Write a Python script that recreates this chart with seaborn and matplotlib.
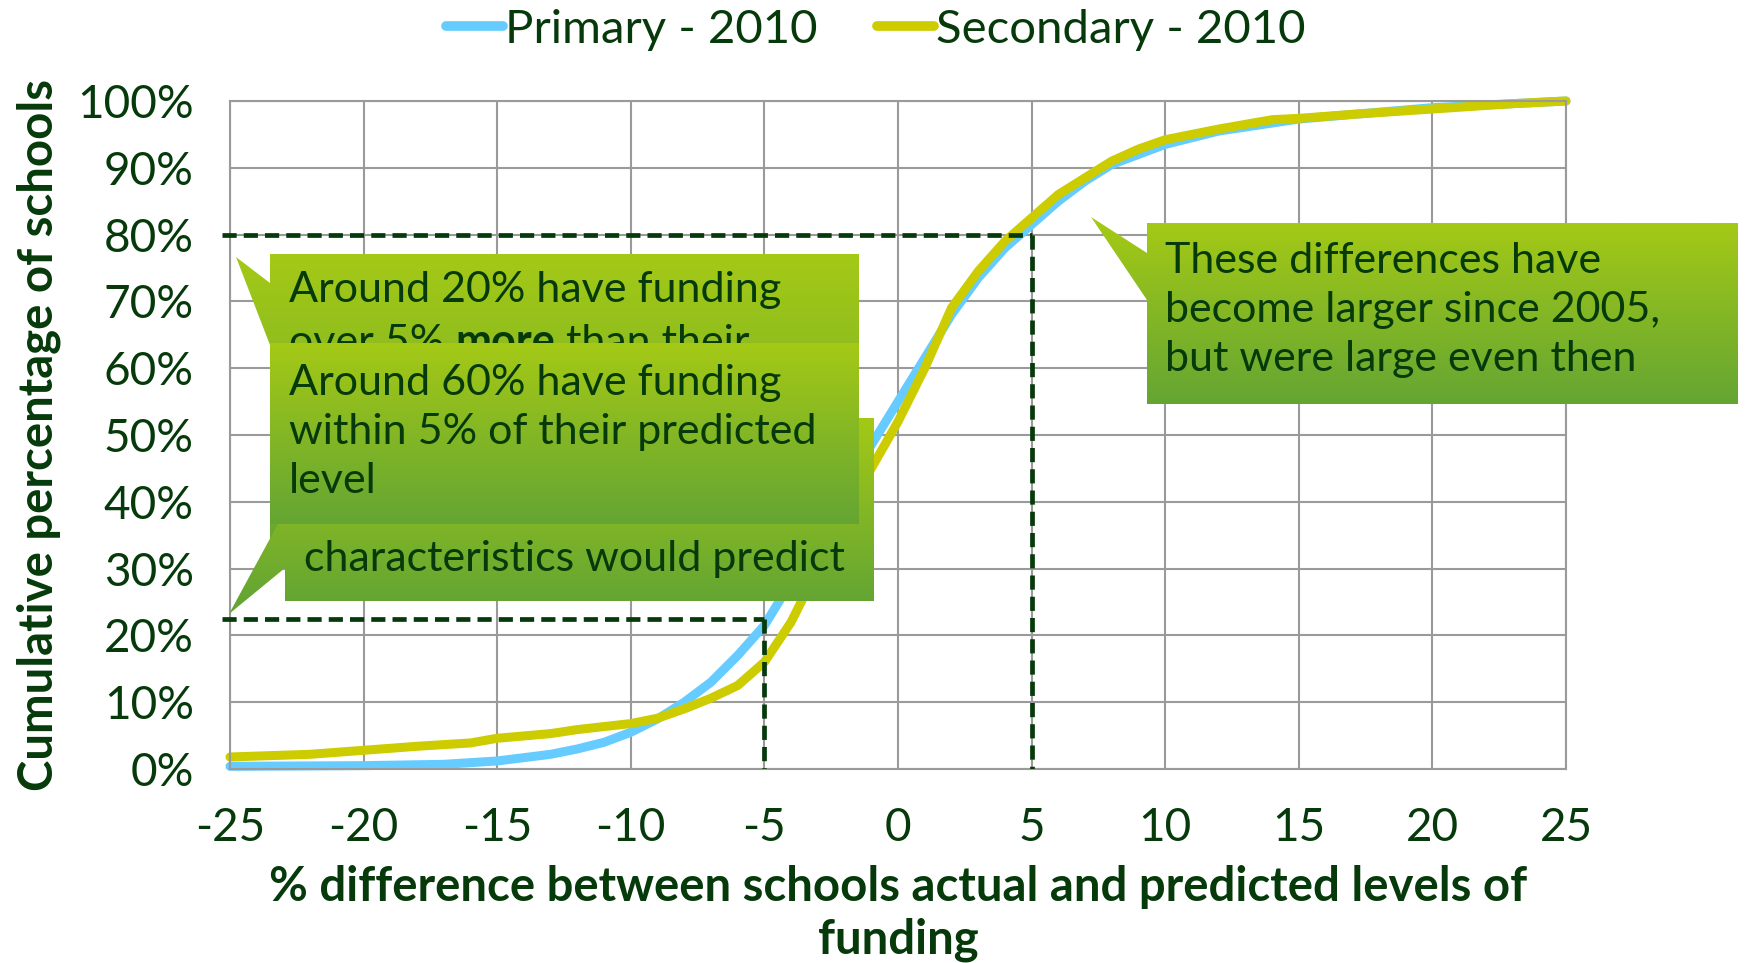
import numpy as np
import pandas as pd
import seaborn as sns
import matplotlib.pyplot as plt
from matplotlib.colors import LinearSegmentedColormap
from matplotlib.patches import Polygon
from matplotlib.lines import Line2D

# cumulative share of schools (%) by % difference in funding
primary_x = [-25, -20, -17, -15, -13, -12, -11, -10, -9, -8, -7, -6, -5, -4, -3, -2, -1, 0, 1, 2, 3, 4, 5, 6, 7, 8, 9, 10, 12, 15, 20, 25]
primary_y = [0.4, 0.5, 0.7, 1.2, 2.2, 3.0, 4.0, 5.5, 7.5, 10.0, 13.0, 17.0, 21.5, 28.0, 35.0, 42.0, 48.5, 55.0, 61.5, 68.0, 73.5, 78.0, 81.5, 85.0, 88.0, 90.5, 92.0, 93.5, 95.5, 97.3, 99.0, 100.0]

secondary_x = [-25, -22, -20, -18, -16, -15, -13, -12, -10, -9, -8, -7, -6, -5, -4, -3, -2, -1, 0, 1, 2, 3, 4, 5, 6, 7, 8, 9, 10, 12, 14, 15, 17, 20, 23, 25]
secondary_y = [1.8, 2.2, 2.8, 3.4, 3.9, 4.6, 5.3, 5.9, 6.8, 7.6, 9.0, 10.6, 12.5, 16.0, 22.0, 30.0, 38.0, 45.0, 52.0, 60.0, 69.0, 74.5, 79.0, 82.5, 86.0, 88.5, 91.0, 92.8, 94.2, 95.8, 97.2, 97.4, 98.0, 98.8, 99.6, 100.0]

series_names = ["Primary - 2010", "Secondary - 2010"]
series_colors = ["#66ccff", "#cccc00"]

# guide lines from the annotations
more_cut_x, more_cut_y = 5, 80
less_cut_x, less_cut_y = -5, 22.5

x_ticks = list(range(-25, 30, 5))
y_ticks = list(range(0, 110, 10))

box_notes = [
    "Around 20% have funding",
    "Around 60% have funding\nwithin 5% of their predicted\nlevel",
    "characteristics would predict",
    "These differences have\nbecome larger since 2005,\nbut were large even then",
]

df = pd.concat([
    pd.DataFrame({"diff": primary_x, "cum": primary_y, "series": series_names[0]}),
    pd.DataFrame({"diff": secondary_x, "cum": secondary_y, "series": series_names[1]}),
])

sns.set_style("white")
plt.rcParams["font.family"] = ["Lato", "DejaVu Sans"]
dark = "#063a0b"

W, H = 1745, 963
fig = plt.figure(figsize=(W / 100, H / 100), dpi=100)
ax = fig.add_axes([230 / W, 1 - 769 / H, 1336 / W, 668 / H])

sns.lineplot(data=df, x="diff", y="cum", hue="series", palette=dict(zip(series_names, series_colors)),
             linewidth=6.5, ax=ax, legend=False, sort=False, estimator=None)
for ln in ax.lines:
    ln.set_clip_on(False)
    ln.set_solid_capstyle("round")
    ln.set_solid_joinstyle("round")

dash = dict(color=dark, lw=3.4, ls=(0, (3, 1.5)), zorder=5)
ax.plot([-25.3, more_cut_x], [more_cut_y, more_cut_y], clip_on=False, **dash)
ax.plot([more_cut_x, more_cut_x], [more_cut_y, 0], **dash)
ax.plot([-25.3, less_cut_x], [less_cut_y, less_cut_y], clip_on=False, **dash)
ax.plot([less_cut_x, less_cut_x], [less_cut_y, 0], **dash)

ax.set_xlim(-25, 25)
ax.set_ylim(0, 100)
ax.set_xticks(x_ticks)
ax.set_yticks(y_ticks)
ax.set_xticklabels([str(t) if t >= 0 else "-" + str(-t) for t in x_ticks])
ax.set_yticklabels([f"{t}%" for t in y_ticks])
ax.tick_params(labelsize=33, colors=dark, length=0)
ax.tick_params(axis="x", pad=27)
ax.tick_params(axis="y", pad=26)
ax.grid(True, color="#9a9a9a", lw=1.5)
for s in ax.spines.values():
    s.set_color("#9a9a9a")
    s.set_linewidth(1.5)
ax.set_xlabel("% difference between schools actual and predicted levels of\nfunding", fontsize=34,
              fontweight="bold", color=dark, labelpad=12, linespacing=1.22)
ax.set_ylabel("Cumulative percentage of schools", fontsize=34, fontweight="bold", color=dark, labelpad=12)

handles = [Line2D([], [], color=c, lw=7, solid_capstyle="round") for c in series_colors]
fig.legend(handles, series_names, loc="center", bbox_to_anchor=(0.502, 1 - 30 / H), ncol=2, frameon=False,
           fontsize=34, handlelength=1.2, handletextpad=0.05, columnspacing=1.25, labelcolor=dark)

# overlay for callouts, pixel coordinates
ov = fig.add_axes([0, 0, 1, 1], zorder=10)
ov.set_xlim(0, W)
ov.set_ylim(H, 0)
ov.axis("off")
green = LinearSegmentedColormap.from_list("g", ["#a4c916", "#64a533"])


def callout(x0, y0, x1, y1, tip, base, z):
    pts = [(x0, y0), (x1, y0), (x1, y1), (x0, y1), (x0, base[1]), tip, (x0, base[0])]
    ys = [p[1] for p in pts]
    xs = [p[0] for p in pts]
    top, bot = min(ys), max(ys)
    yy = np.linspace(top, bot, 200)
    grad = np.clip((yy - y0) / (y1 - y0), 0, 1)[:, None]
    im = ov.imshow(grad, cmap=green, vmin=0, vmax=1, extent=(min(xs), max(xs), bot, top),
                   aspect="auto", zorder=z, interpolation="bilinear")
    poly = Polygon(pts, closed=True, facecolor="none", edgecolor="none", transform=ov.transData)
    ov.add_patch(poly)
    im.set_clip_path(poly)


tfont = dict(fontsize=31, color=dark, va="center", linespacing=1.36)

# box 1 (20% more)
callout(270, 254, 859, 560, (236, 257), (283, 345), 1)
ov.text(289, 290, box_notes[0], zorder=2, **tfont)
t1b = ov.text(289, 343, "over 5% ", zorder=2, **tfont)
t1c = ov.annotate("more", xy=(1, 0), xycoords=t1b, va="bottom", fontsize=31, color=dark,
                  fontweight="bold", zorder=2)
ov.annotate(" than their", xy=(1, 0), xycoords=t1c, va="bottom", fontsize=31, color=dark, zorder=2)

# box 3 (20% less), only its last line shows below box 2
callout(285, 418, 874, 601, (229, 614), (511, 568), 3)
ov.text(304, 559, box_notes[2], zorder=4, **tfont)

# box 2 (60% within)
callout(270, 343, 859, 524, (270, 400), (400, 400), 5)
ov.text(289, 432, box_notes[1], zorder=6, **tfont)

# box 4
callout(1147, 223, 1738, 404, (1091, 217), (253, 300), 5)
ov.text(1165, 310, box_notes[3], zorder=6, **tfont)

fig.savefig("out.png", dpi=100)
